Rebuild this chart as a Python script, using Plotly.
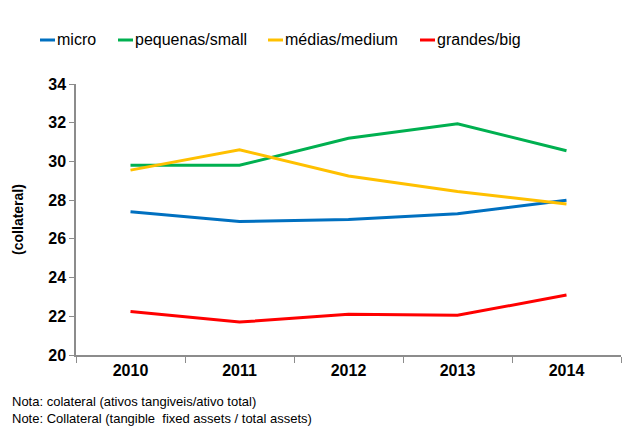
import plotly.graph_objects as go

years = ["2010", "2011", "2012", "2013", "2014"]
micro = [27.4, 26.9, 27.0, 27.3, 28.0]
pequenas = [29.8, 29.8, 31.2, 31.95, 30.55]
medias = [29.55, 30.6, 29.25, 28.45, 27.8]
grandes = [22.25, 21.7, 22.1, 22.05, 23.1]

series = [
    ("micro", micro, "#0070C0"),
    ("pequenas/small", pequenas, "#00B050"),
    ("médias/medium", medias, "#FFC000"),
    ("grandes/big", grandes, "#FF0000"),
]
legend_x = [40, 118, 268, 420]  # pixel start of each legend key (page coords)

FONT = "Liberation Sans, Arial, sans-serif"
OFF = 8  # default body margin of the html page
W, H = 638 - OFF, 426 - OFF
L, R, T, B = 76 - OFF, 17, 84 - OFF, 71
PW = W - L - R
PH = H - T - B

def px2x(px):
    return (px - OFF - L) / PW

def py2y(py):
    return (H - B - (py - OFF)) / PH

fig = go.Figure()
for name, vals, col in series:
    fig.add_trace(go.Scatter(x=years, y=vals, name=name, mode="lines",
                             line=dict(color=col, width=3), showlegend=False))

# custom compact legend
for (name, vals, col), lx in zip(series, legend_x):
    fig.add_shape(type="line", xref="paper", yref="paper",
                  x0=px2x(lx), x1=px2x(lx + 15), y0=py2y(40), y1=py2y(40),
                  line=dict(color=col, width=3))
    fig.add_annotation(xref="paper", yref="paper", x=px2x(lx + 15), y=py2y(40),
                       xanchor="left", yanchor="middle", showarrow=False,
                       text=name, font=dict(size=16, family=FONT, color="#000000"))

fig.update_layout(
    width=W, height=H,
    margin=dict(l=L, r=R, t=T, b=B, autoexpand=False),
    plot_bgcolor="white", paper_bgcolor="white",
    font=dict(family=FONT, color="#000000"),
    showlegend=False,
    xaxis=dict(type="category", tickson="boundaries", range=[-0.5, 4.5],
               showgrid=False,
               showline=True, linecolor="#8c8c8c", linewidth=1.5,
               ticks="outside", ticklen=6, tickcolor="#8c8c8c",
               tickfont=dict(size=16, family=FONT, color="#000000", weight="bold"),
               fixedrange=True),
    yaxis=dict(range=[20, 34], dtick=2, showgrid=False, zeroline=False,
               showline=True, linecolor="#8c8c8c", linewidth=1.5,
               ticks="outside", ticklen=5, tickcolor="#8c8c8c",
               tickfont=dict(size=16, family=FONT, color="#000000", weight="bold"),
               title=dict(text="(collateral)", font=dict(size=14, family=FONT, weight="bold"),
                          standoff=21)),
    yaxis2=dict(range=[20, 34], dtick=2, overlaying="y", side="left",
                showgrid=False, zeroline=False, showline=False,
                ticks="inside", ticklen=4, tickcolor="#8c8c8c",
                showticklabels=False),
)

fig.add_annotation(xref="paper", yref="paper", x=px2x(10), y=py2y(392), xanchor="left", yanchor="top",
                   align="left", showarrow=False,
                   text="Nota: colateral (ativos tangiveis/ativo total)<br>Note: Collateral (tangible  fixed assets / total assets)",
                   font=dict(size=13, family=FONT, color="#000000"))

fig.write_html("out.html")
